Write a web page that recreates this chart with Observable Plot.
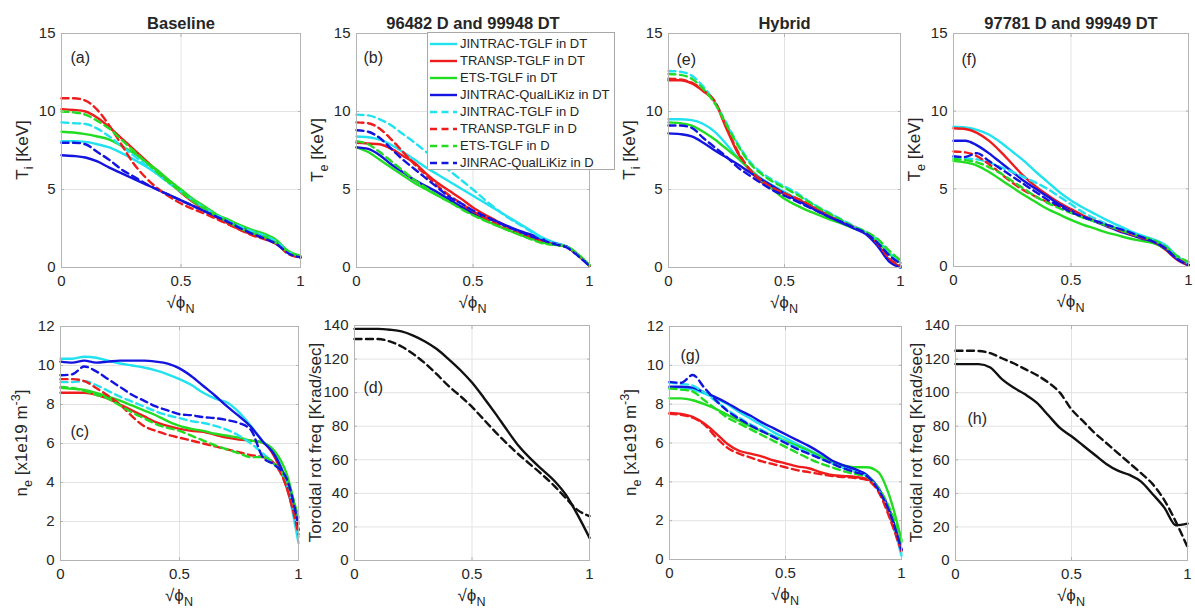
<!DOCTYPE html>
<html><head><meta charset="utf-8">
<script src="https://cdn.jsdelivr.net/npm/d3@7"></script>
<script src="https://cdn.jsdelivr.net/npm/@observablehq/plot@0.6"></script>
<style>
body{margin:0;background:#fff;overflow:hidden}
#fig{position:relative;width:1195px;height:615px;overflow:hidden;background:#fff;font-family:"Liberation Sans",Arial,Helvetica,sans-serif;color:#262626}
#fig svg.pn{position:absolute}
#legend{position:absolute;left:427px;top:32px;width:186px;height:134px;border:1px solid #a8a8a8;background:#fff;font-size:13px;padding-top:2px;box-sizing:content-box}
#legend .row{height:17px;display:flex;align-items:center;white-space:nowrap}
#legend svg{margin-left:2px;margin-right:3px;flex:none}
</style></head><body><div id="fig"></div><script>
// ---------- data ----------
const rho = [0, 0.05, 0.1, 0.15, 0.2, 0.25, 0.3, 0.35, 0.4, 0.45, 0.5, 0.55, 0.6, 0.65, 0.7, 0.75, 0.8, 0.85, 0.9, 0.95, 1];
const seriesNames = ["JINTRAC-TGLF in DT", "TRANSP-TGLF in DT", "ETS-TGLF in DT", "JINTRAC-QualLiKiz in DT",
                     "JINTRAC-TGLF in D", "TRANSP-TGLF in D", "ETS-TGLF in D", "JINRAC-QualLiKiz in D"];
const xTicks = [0, 0.5, 1];
const tTicks = [0, 5, 10, 15];
const nTicks = [0, 2, 4, 6, 8, 10, 12];
const wTicks = [0, 20, 40, 60, 80, 100, 120, 140];
const titles = ["Baseline", "96482 D and 99948 DT", "Hybrid", "97781 D and 99949 DT"];
const tags = ["(a)", "(b)", "(c)", "(d)", "(e)", "(f)", "(g)", "(h)"];

// (a) Ti baseline
const aJT_DT = [8.1, 8.1, 8.05, 7.9, 7.7, 7.35, 6.95, 6.5, 6.0, 5.45, 4.9, 4.3, 3.8, 3.35, 3.0, 2.65, 2.35, 2.1, 1.6, 1.0, 0.7];
const aTT_DT = [10.15, 10.1, 10.0, 9.6, 9.0, 8.3, 7.6, 6.9, 6.2, 5.5, 4.8, 4.2, 3.7, 3.2, 2.8, 2.4, 2.1, 1.85, 1.5, 0.95, 0.65];
const aET_DT = [8.7, 8.65, 8.55, 8.4, 8.2, 7.8, 7.35, 6.8, 6.25, 5.6, 5.0, 4.4, 3.9, 3.4, 3.05, 2.7, 2.4, 2.15, 1.75, 1.05, 0.75];
const aJQ_DT = [7.2, 7.15, 7.05, 6.8, 6.4, 6.05, 5.7, 5.35, 5.0, 4.65, 4.3, 3.95, 3.6, 3.25, 2.9, 2.55, 2.2, 1.9, 1.55, 0.95, 0.65];
const aJT_D  = [9.3, 9.25, 9.2, 8.9, 8.4, 7.8, 7.2, 6.6, 6.0, 5.4, 4.85, 4.3, 3.8, 3.35, 2.95, 2.6, 2.3, 2.05, 1.65, 1.0, 0.7];
const aTT_D  = [10.85, 10.85, 10.7, 10.1, 9.1, 7.9, 6.7, 5.8, 5.1, 4.55, 4.1, 3.75, 3.45, 3.1, 2.75, 2.4, 2.05, 1.8, 1.5, 0.85, 0.65];
const aET_D  = [10.0, 9.95, 9.8, 9.4, 8.9, 8.2, 7.5, 6.8, 6.1, 5.45, 4.85, 4.25, 3.75, 3.3, 2.9, 2.5, 2.2, 1.95, 1.55, 1.0, 0.7];
const aJQ_D  = [8.0, 8.0, 7.9, 7.4, 6.9, 6.3, 5.85, 5.4, 5.0, 4.65, 4.3, 3.95, 3.6, 3.25, 2.9, 2.5, 2.15, 1.85, 1.5, 0.9, 0.65];
// (b) Te 96482 D / 99948 DT
const bJT_DT = [8.4, 8.35, 8.2, 7.85, 7.4, 6.9, 6.4, 5.95, 5.5, 5.05, 4.6, 4.15, 3.7, 3.25, 2.8, 2.35, 1.9, 1.6, 1.35, 0.8, 0.1];
const bTT_DT = [8.0, 7.95, 7.9, 7.6, 7.15, 6.7, 6.0, 5.4, 4.9, 4.4, 3.85, 3.4, 3.0, 2.6, 2.3, 2.0, 1.75, 1.5, 1.35, 0.8, 0.1];
const bET_DT = [7.7, 7.4, 6.9, 6.4, 5.9, 5.4, 5.0, 4.6, 4.2, 3.8, 3.4, 3.05, 2.7, 2.4, 2.1, 1.85, 1.6, 1.45, 1.35, 0.85, 0.15];
const bJQ_DT = [7.7, 7.6, 7.2, 6.6, 6.1, 5.6, 5.2, 4.8, 4.35, 3.9, 3.5, 3.2, 2.95, 2.65, 2.35, 2.1, 1.8, 1.55, 1.35, 0.8, 0.1];
const bJT_D  = [9.8, 9.75, 9.5, 9.1, 8.55, 8.0, 7.4, 6.8, 6.2, 5.6, 5.0, 4.35, 3.75, 3.2, 2.75, 2.3, 1.85, 1.55, 1.35, 0.8, 0.1];
const bTT_D  = [9.3, 9.25, 8.9, 8.2, 7.4, 6.6, 5.9, 5.2, 4.6, 4.1, 3.6, 3.2, 2.8, 2.45, 2.15, 1.9, 1.65, 1.5, 1.3, 0.8, 0.1];
const bET_D  = [8.1, 7.9, 7.4, 6.8, 6.2, 5.6, 5.1, 4.6, 4.2, 3.75, 3.35, 3.0, 2.7, 2.4, 2.1, 1.8, 1.55, 1.45, 1.35, 0.85, 0.15];
const bJQ_D  = [8.8, 8.7, 8.3, 7.6, 6.9, 6.3, 5.7, 5.1, 4.5, 4.1, 3.65, 3.3, 2.95, 2.6, 2.3, 2.0, 1.75, 1.5, 1.3, 0.75, 0.1];
// (c) ne baseline
const cJT_DT = [10.35, 10.35, 10.45, 10.4, 10.25, 10.1, 10.0, 9.9, 9.75, 9.55, 9.3, 9.0, 8.6, 8.3, 8.1, 7.6, 6.9, 6.1, 5.5, 3.9, 0.9];
const cTT_DT = [8.6, 8.6, 8.6, 8.5, 8.3, 8.0, 7.7, 7.4, 7.1, 6.9, 6.75, 6.65, 6.6, 6.45, 6.3, 6.2, 6.15, 6.05, 5.3, 3.75, 1.55];
const cET_DT = [8.85, 8.8, 8.75, 8.6, 8.4, 8.2, 7.95, 7.7, 7.45, 7.15, 6.9, 6.75, 6.65, 6.5, 6.4, 6.3, 6.15, 6.05, 5.6, 4.45, 1.95];
const cJQ_DT = [10.2, 10.15, 10.25, 10.15, 10.2, 10.25, 10.25, 10.25, 10.2, 10.1, 9.85, 9.45, 8.95, 8.45, 7.9, 7.4, 6.85, 6.1, 5.4, 4.0, 1.6];
const cJT_D  = [9.15, 9.15, 9.2, 9.0, 8.7, 8.4, 8.15, 7.9, 7.65, 7.45, 7.3, 7.15, 7.05, 6.9, 6.7, 6.4, 6.0, 5.5, 4.9, 3.9, 1.2];
const cTT_D  = [9.3, 9.3, 9.2, 8.85, 8.45, 8.0, 7.4, 6.9, 6.65, 6.45, 6.3, 6.15, 6.0, 5.85, 5.7, 5.55, 5.4, 5.3, 4.95, 3.75, 1.35];
const cET_D  = [8.9, 8.85, 8.7, 8.5, 8.3, 7.95, 7.6, 7.3, 7.0, 6.8, 6.65, 6.4, 6.15, 5.9, 5.7, 5.5, 5.3, 5.3, 4.95, 4.1, 2.2];
const cJQ_D  = [9.5, 9.55, 9.95, 9.7, 9.3, 8.9, 8.5, 8.2, 7.9, 7.7, 7.5, 7.45, 7.35, 7.3, 7.2, 7.05, 6.7, 5.3, 4.9, 4.2, 1.8];
// (d) rotation baseline
const dDT = [138, 138, 138, 137.5, 136.5, 134, 130.5, 126, 120, 113.5, 106, 97, 87.5, 77.5, 68, 60.5, 54, 47.5, 39, 27, 13.5];
const dD  = [132, 132, 132, 130.5, 127.5, 123, 117.5, 111, 104, 98, 91.5, 84, 76.5, 69.5, 63, 57, 51, 44.5, 37, 30, 26.5];
// (e) Ti hybrid
const eJT_DT = [9.5, 9.5, 9.45, 9.2, 8.7, 7.9, 7.0, 6.3, 5.7, 5.25, 4.85, 4.45, 4.05, 3.65, 3.25, 2.9, 2.55, 2.2, 1.5, 0.55, 0.05];
const eTT_DT = [12.0, 12.0, 11.8, 11.3, 10.6, 8.9, 7.3, 6.2, 5.5, 5.05, 4.7, 4.4, 4.05, 3.65, 3.25, 2.9, 2.6, 2.2, 1.5, 0.5, 0.05];
const eET_DT = [9.3, 9.25, 9.1, 8.7, 8.2, 7.6, 7.0, 6.3, 5.6, 5.0, 4.4, 4.0, 3.65, 3.35, 3.05, 2.8, 2.5, 2.25, 1.7, 0.9, 0.3];
const eJQ_DT = [8.6, 8.55, 8.4, 8.0, 7.5, 7.05, 6.6, 6.1, 5.65, 5.2, 4.75, 4.35, 3.95, 3.55, 3.2, 2.85, 2.5, 2.15, 1.4, 0.4, 0.0];
const eJT_D  = [12.6, 12.55, 12.3, 11.6, 10.6, 9.25, 7.9, 6.8, 6.1, 5.6, 5.2, 4.8, 4.3, 3.85, 3.45, 3.05, 2.65, 2.3, 1.8, 1.0, 0.3];
const eTT_D  = [12.1, 12.05, 11.85, 11.35, 10.65, 9.0, 7.4, 6.3, 5.6, 5.1, 4.75, 4.45, 4.1, 3.7, 3.3, 2.95, 2.6, 2.2, 1.55, 0.6, 0.1];
const eET_D  = [12.4, 12.35, 12.1, 11.45, 10.5, 9.15, 7.8, 6.7, 6.0, 5.5, 5.1, 4.7, 4.25, 3.8, 3.4, 3.0, 2.6, 2.3, 1.85, 1.1, 0.45];
const eJQ_D  = [9.1, 9.1, 8.95, 8.3, 7.7, 7.1, 6.4, 5.9, 5.4, 4.95, 4.6, 4.25, 3.9, 3.55, 3.2, 2.9, 2.55, 2.2, 1.6, 0.8, 0.25];
// (f) Te 97781 D / 99949 DT
const fJT_DT = [9.0, 8.95, 8.8, 8.5, 8.0, 7.4, 6.8, 6.1, 5.45, 4.8, 4.25, 3.8, 3.4, 3.0, 2.65, 2.3, 2.0, 1.75, 1.4, 0.7, 0.15];
const fTT_DT = [8.9, 8.85, 8.6, 8.1, 7.4, 6.6, 5.8, 5.15, 4.6, 4.1, 3.7, 3.3, 2.95, 2.65, 2.35, 2.1, 1.85, 1.6, 1.1, 0.45, 0.05];
const fET_DT = [6.8, 6.7, 6.5, 6.1, 5.6, 5.1, 4.6, 4.15, 3.7, 3.35, 3.0, 2.7, 2.45, 2.2, 2.0, 1.8, 1.65, 1.5, 1.15, 0.55, 0.1];
const fJQ_DT = [8.1, 8.1, 7.8, 7.3, 6.7, 6.1, 5.5, 5.0, 4.5, 4.0, 3.6, 3.2, 2.9, 2.6, 2.3, 2.05, 1.8, 1.6, 1.15, 0.5, 0.1];
const fJT_D  = [7.0, 6.95, 6.9, 6.7, 6.4, 6.1, 5.75, 5.4, 5.0, 4.5, 4.0, 3.5, 3.1, 2.75, 2.45, 2.2, 1.95, 1.7, 1.3, 0.6, 0.15];
const fTT_D  = [7.4, 7.35, 7.1, 6.6, 6.0, 5.4, 4.9, 4.5, 4.15, 3.85, 3.55, 3.25, 2.95, 2.65, 2.35, 2.1, 1.85, 1.6, 1.2, 0.55, 0.1];
const fET_D  = [6.9, 6.85, 6.7, 6.4, 6.0, 5.5, 5.0, 4.5, 4.1, 3.75, 3.45, 3.15, 2.9, 2.65, 2.4, 2.15, 1.9, 1.7, 1.3, 0.7, 0.3];
const fJQ_D  = [7.1, 7.05, 7.3, 6.8, 6.3, 5.8, 5.3, 4.8, 4.3, 3.9, 3.5, 3.2, 2.95, 2.7, 2.45, 2.2, 1.9, 1.6, 1.2, 0.5, 0.1];
// (g) ne hybrid
const gJT_DT = [8.85, 8.85, 8.75, 8.55, 8.3, 8.0, 7.6, 7.25, 6.9, 6.55, 6.25, 5.95, 5.65, 5.35, 5.05, 4.8, 4.6, 4.35, 3.6, 2.3, 0.2];
const gTT_DT = [7.55, 7.5, 7.35, 7.0, 6.5, 5.95, 5.6, 5.45, 5.3, 5.1, 4.95, 4.8, 4.7, 4.5, 4.35, 4.3, 4.25, 4.15, 3.65, 2.2, 0.5];
const gET_DT = [8.3, 8.3, 8.2, 8.0, 7.75, 7.45, 7.15, 6.85, 6.6, 6.35, 6.1, 5.85, 5.6, 5.3, 5.0, 4.85, 4.75, 4.75, 4.5, 3.2, 1.0];
const gJQ_DT = [8.9, 8.9, 8.85, 8.6, 8.35, 8.05, 7.7, 7.4, 7.05, 6.75, 6.45, 6.15, 5.85, 5.5, 5.1, 4.85, 4.65, 4.35, 3.7, 2.5, 0.5];
const gJT_D  = [9.1, 9.05, 8.95, 8.6, 8.15, 7.7, 7.3, 6.95, 6.65, 6.35, 6.05, 5.75, 5.5, 5.2, 4.95, 4.7, 4.5, 4.3, 3.6, 2.3, 0.3];
const gTT_D  = [7.5, 7.45, 7.3, 6.95, 6.3, 5.75, 5.45, 5.25, 5.05, 4.9, 4.75, 4.6, 4.5, 4.4, 4.3, 4.25, 4.2, 4.1, 3.5, 2.1, 0.4];
const gET_D  = [8.8, 8.75, 8.65, 8.2, 7.75, 7.3, 7.0, 6.7, 6.4, 6.1, 5.8, 5.5, 5.2, 4.95, 4.75, 4.55, 4.4, 4.25, 3.7, 2.6, 0.9];
const gJQ_D  = [9.15, 9.1, 9.5, 8.85, 8.2, 7.65, 7.25, 6.9, 6.6, 6.3, 6.0, 5.7, 5.45, 5.2, 4.95, 4.7, 4.5, 4.3, 3.6, 2.4, 0.5];
// (h) rotation hybrid
const hDT = [117, 117, 117, 115, 108, 103, 99, 94, 86.5, 79, 74, 68.5, 63, 57.5, 53.5, 51, 47, 39.5, 31.5, 21, 22];
const hD  = [125, 125, 124.8, 123.5, 120.5, 117.5, 114, 110.5, 106, 100, 90, 83, 76, 70, 64, 58, 52, 45.5, 36, 23, 8];

// ---------- styles ----------
const COLORS = ["#22e2f0", "#ee1c1c", "#22dc22", "#1414e0"];
const BLACK = "#111111";
const GRID = "#e3e3e3", FRAME = "#b4b4b4";
const FONT = '"Liberation Sans", Arial, Helvetica, sans-serif';
const ML = 60, MT = 34, MR = 30, MB = 56;

const fig = d3.select("#fig");

function rich(sel, parts, fs) {
  let shift = 0;
  for (const p of parts) {
    const target = p.sub ? fs * 0.32 : p.sup ? -fs * 0.42 : 0;
    const t = sel.append("tspan").text(p.t).attr("dy", (target - shift) + "px");
    if (p.sub || p.sup) t.attr("font-size", (fs * 0.74) + "px");
    shift = target;
  }
}

function eightSeries(arrs) {
  return arrs.map((v, i) => ({name: seriesNames[i], values: v, color: COLORS[i % 4], dash: i >= 4}));
}

function panel(cfg) {
  const {L, T, R, B, yDomain, yTicks, series, title, tag, tagDx, tagDy, ylabel, ylFs = 17} = cfg;
  const w = R - L, h = B - T;
  const marks = [
    Plot.gridX({ticks: xTicks, stroke: GRID, strokeOpacity: 1}),
    Plot.gridY({ticks: yTicks, stroke: GRID, strokeOpacity: 1}),
    ...series.map(s => Plot.line(rho.map((x, i) => ({x, y: s.values[i]})), {
      x: "x", y: "y", stroke: s.color, strokeWidth: 2.4,
      strokeDasharray: s.dash ? "7,4.5" : null, curve: "monotone-x"
    })),
    Plot.frame({stroke: FRAME}),
    Plot.axisX({ticks: xTicks, tickSize: -3, tickPadding: 11, stroke: FRAME, label: null, tickFormat: d => String(d)}),
    Plot.axisX({ticks: xTicks, anchor: "top", tickSize: -3, fill: "none", stroke: FRAME, label: null}),
    Plot.axisY({ticks: yTicks, tickSize: -3, tickPadding: 9, stroke: FRAME, label: null, tickFormat: d => String(d)}),
    Plot.axisY({ticks: yTicks, anchor: "right", tickSize: -3, fill: "none", stroke: FRAME, label: null}),
    Plot.text([tag], {frameAnchor: "top-left", dx: tagDx, dy: tagDy, textAnchor: "start", fontSize: 16})
  ];
  if (title) marks.push(Plot.text([title], {frameAnchor: "top", dy: -16, fontWeight: "bold", fontSize: 16.5}));
  const svg = Plot.plot({
    width: w + ML + MR, height: h + MT + MB,
    marginLeft: ML, marginTop: MT, marginRight: MR, marginBottom: MB,
    x: {domain: [0, 1]}, y: {domain: yDomain},
    style: {fontSize: "15px", fontFamily: FONT, color: "#262626", background: "transparent", overflow: "visible"},
    marks
  });
  const s = d3.select(svg).classed("pn", true).style("left", (L - ML) + "px").style("top", (T - MT) + "px");
  // x label
  const xl = s.append("text").attr("x", ML + w / 2).attr("y", MT + h + 41)
    .attr("text-anchor", "middle").attr("font-size", "17px").attr("fill", "#262626").attr("font-family", FONT);
  rich(xl, [{t: "\u221A\u03D5"}, {t: "N", sub: true}], 17);
  // y label
  const yl = s.append("text").attr("transform", `translate(${ML - 33},${MT + h / 2}) rotate(-90)`)
    .attr("text-anchor", "middle").attr("font-size", ylFs + "px").attr("fill", "#262626").attr("font-family", FONT);
  rich(yl, ylabel, ylFs);
  fig.node().appendChild(svg);
}

const Ti = [{t: "T"}, {t: "i", sub: true}, {t: " [KeV]"}];
const Te = [{t: "T"}, {t: "e", sub: true}, {t: " [KeV]"}];
const ne = [{t: "n"}, {t: "e", sub: true}, {t: " [x1e19 m"}, {t: "-3", sup: true}, {t: "]"}];
const rot = [{t: "Toroidal rot freq [Krad/sec]"}];

panel({L: 61, T: 33, R: 300, B: 267, yDomain: [0, 15], yTicks: tTicks, title: titles[0], tag: tags[0], tagDx: 9, tagDy: 18, ylabel: Ti,
  series: eightSeries([aJT_DT, aTT_DT, aET_DT, aJQ_DT, aJT_D, aTT_D, aET_D, aJQ_D])});
panel({L: 356, T: 33, R: 589, B: 267, yDomain: [0, 15], yTicks: tTicks, title: titles[1], tag: tags[1], tagDx: 7, tagDy: 18, ylabel: Te,
  series: eightSeries([bJT_DT, bTT_DT, bET_DT, bJQ_DT, bJT_D, bTT_D, bET_D, bJQ_D])});
panel({L: 668, T: 33, R: 900, B: 267, yDomain: [0, 15], yTicks: tTicks, title: titles[2], tag: tags[4], tagDx: 8, tagDy: 20, ylabel: Ti,
  series: eightSeries([eJT_DT, eTT_DT, eET_DT, eJQ_DT, eJT_D, eTT_D, eET_D, eJQ_D])});
panel({L: 953, T: 33, R: 1188, B: 266, yDomain: [0, 15], yTicks: tTicks, title: titles[3], tag: tags[5], tagDx: 8, tagDy: 20, ylabel: Te,
  series: eightSeries([fJT_DT, fTT_DT, fET_DT, fJQ_DT, fJT_D, fTT_D, fET_D, fJQ_D])});
panel({L: 60, T: 326, R: 298, B: 560, yDomain: [0, 12], yTicks: nTicks, tag: tags[2], tagDx: 10, tagDy: 99, ylabel: ne,
  series: eightSeries([cJT_DT, cTT_DT, cET_DT, cJQ_DT, cJT_D, cTT_D, cET_D, cJQ_D])});
panel({L: 354, T: 325, R: 589, B: 560, yDomain: [0, 140], yTicks: wTicks, tag: tags[3], tagDx: 9, tagDy: 56, ylabel: rot,
  series: [{values: dDT, color: BLACK, dash: false}, {values: dD, color: BLACK, dash: true}]});
panel({L: 669, T: 326, R: 901, B: 559, yDomain: [0, 12], yTicks: nTicks, tag: tags[6], tagDx: 11, tagDy: 23, ylabel: ne,
  series: eightSeries([gJT_DT, gTT_DT, gET_DT, gJQ_DT, gJT_D, gTT_D, gET_D, gJQ_D])});
panel({L: 955, T: 325, R: 1187, B: 560, yDomain: [0, 140], yTicks: wTicks, tag: tags[7], tagDx: 12, tagDy: 87, ylabel: rot,
  series: [{values: hDT, color: BLACK, dash: false}, {values: hD, color: BLACK, dash: true}]});

// legend
const legend = fig.append("div").attr("id", "legend");
seriesNames.forEach((name, i) => {
  const row = legend.append("div").attr("class", "row");
  const sv = row.append("svg").attr("width", 27).attr("height", 6);
  sv.append("line").attr("x1", 0).attr("x2", 27).attr("y1", 3).attr("y2", 3)
    .attr("stroke", COLORS[i % 4]).attr("stroke-width", 2.4)
    .attr("stroke-dasharray", i >= 4 ? "7,4.5" : null);
  row.append("span").text(name);
});
</script></body></html>
